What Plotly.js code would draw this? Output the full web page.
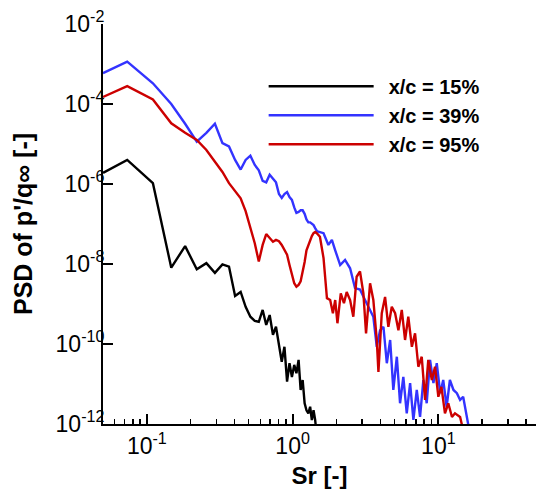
<!DOCTYPE html>
<html>
<head>
<meta charset="utf-8">
<script src="https://cdn.plot.ly/plotly-3.0.1.min.js"></script>
<style>html,body{margin:0;padding:0;background:#fff;}#chart{width:536px;height:490px;}</style>
</head>
<body>
<div id="chart"></div>
<script>
// Series names
const seriesNames = ['x/c = 15%', 'x/c = 39%', 'x/c = 95%'];

// x/c = 15% (black)
const srBlack = [0.05,0.0733,0.110,0.147,0.183,0.220,0.256,0.293,0.330,0.366,0.403,0.440,0.476,0.513,0.550,0.586,0.623,0.659,0.696,0.733,0.769,0.806,0.842,0.879,0.916,0.952,0.989,1.026,1.062,1.099,1.135,1.172,1.209,1.245,1.282,1.319,1.355,1.392,1.428,1.465];
const psdBlack = [1.9e-6,4.0e-6,1.05e-6,8.1e-9,2.8e-8,7.4e-9,1.05e-8,6.0e-9,9.8e-9,8.6e-9,1.58e-9,2.0e-9,8.5e-10,4.8e-10,3.8e-10,3.6e-10,7.1e-10,3.0e-10,5.3e-10,1.7e-10,2.7e-10,8.5e-11,3.6e-11,8.5e-11,1.15e-11,3.3e-11,1.5e-11,3.0e-11,1.85e-11,4.0e-11,7.1e-12,1.26e-11,3.3e-12,2.2e-12,1.85e-12,2.7e-12,1.26e-12,2.2e-12,1.26e-12,5e-13];

// x/c = 39% (blue)
const srBlue = [0.05,0.0733,0.110,0.147,0.183,0.220,0.256,0.293,0.330,0.366,0.403,0.440,0.476,0.513,0.550,0.586,0.623,0.659,0.696,0.733,0.769,0.806,0.842,0.879,0.916,0.952,0.989,1.026,1.062,1.099,1.135,1.172,1.209,1.245,1.282,1.319,1.355,1.392,1.428,1.465,1.50,1.63,1.76,1.86,1.96,2.12,2.29,2.48,2.68,2.90,3.14,3.40,3.58,3.78,3.98,4.20,4.43,4.67,4.91,5.19,5.46,5.75,6.07,6.40,6.74,7.11,7.49,7.89,8.32,8.77,9.25,9.75,10.3,10.8,11.4,12.0,12.7,13.4,14.1,14.8,15.7,16.3];
const psdBlue = [5.9e-4,1.15e-3,3.3e-4,1.0e-4,3.2e-5,1.15e-5,1.9e-5,3.2e-5,1.05e-5,8.7e-6,4.0e-6,2.3e-6,4.0e-6,5.1e-6,3.0e-6,2.2e-6,1.2e-6,1.1e-6,1.7e-6,1.4e-6,1.1e-6,5.6e-7,4.5e-7,5.6e-7,6.3e-7,4.7e-7,4.0e-7,2.6e-7,1.9e-7,2.0e-7,2.2e-7,2.2e-7,1.8e-7,1.3e-7,1.1e-7,1.1e-7,1.0e-7,9.4e-8,7.9e-8,6.7e-8,6.4e-8,5.9e-8,3.0e-8,4.0e-8,2.2e-8,9.4e-9,1.26e-8,7.8e-9,2.5e-9,2.3e-9,1.26e-9,7.1e-10,4.8e-10,8.5e-11,2.2e-10,2.7e-10,3.3e-11,1.26e-10,7.1e-12,4.8e-11,3.3e-12,1.5e-11,1.85e-12,1.05e-11,1.26e-12,7.1e-12,1.5e-12,1.26e-11,3.3e-12,4.0e-11,1.05e-11,3.3e-11,5.9e-12,1.26e-11,2.7e-12,1.26e-11,7.1e-12,5.9e-12,4.0e-12,4.8e-12,1.5e-12,7e-13];

// x/c = 95% (red)
const srRed = [0.05,0.0733,0.110,0.147,0.183,0.220,0.256,0.293,0.330,0.366,0.403,0.440,0.476,0.513,0.550,0.586,0.623,0.659,0.696,0.733,0.769,0.806,0.842,0.879,0.916,0.952,0.989,1.026,1.062,1.099,1.135,1.172,1.209,1.245,1.282,1.319,1.355,1.392,1.428,1.465,1.54,1.63,1.72,1.81,1.89,1.96,2.03,2.14,2.25,2.35,2.48,2.61,2.75,2.90,3.06,3.19,3.40,3.58,3.78,3.88,4.09,4.31,4.54,4.79,5.05,5.32,5.61,5.91,6.22,6.58,6.92,7.29,7.69,8.11,8.53,9.02,9.49,10.0,10.5,11.1,11.7,12.4,13.0,14.1,14.8];
const psdRed = [1.5e-4,2.8e-4,1.3e-4,3.3e-5,1.9e-5,1.26e-5,7.1e-6,3.6e-6,2.0e-6,1.05e-6,6.5e-7,4.4e-7,2.1e-7,8.3e-8,3.3e-8,1.15e-8,3.0e-8,5.6e-8,4.5e-8,3.6e-8,4.0e-8,3.7e-8,3.0e-8,2.2e-8,1.7e-8,9.4e-9,5.0e-9,3.3e-9,2.7e-9,3.0e-9,3.7e-9,6.3e-9,1.12e-8,2.2e-8,3.0e-8,4.0e-8,5.0e-8,5.9e-8,6.3e-8,5.9e-8,4.8e-8,1.4e-8,1.4e-9,1.26e-9,5.9e-10,1.26e-9,3.3e-10,1.85e-9,1.05e-9,2.0e-9,1.26e-9,4.8e-10,4.8e-9,6.5e-9,1.85e-9,1.85e-10,3.3e-9,1.26e-9,1.26e-10,2.0e-11,5.9e-10,1.5e-9,2.7e-10,8.5e-10,5.9e-10,2.2e-10,7.1e-10,1.26e-10,4.8e-10,8.5e-11,1.85e-10,2.7e-11,4.8e-11,4.0e-12,4.0e-11,1.26e-11,2.7e-11,4.8e-12,8.5e-12,1.85e-12,3.3e-12,1.5e-12,1.85e-12,1.5e-12,7e-13];

// Axis ticks
const xTickVals = [0.1, 1, 10];
const xTickText = ['10<sup>-1</sup>', '10<sup>0</sup>', '10<sup>1</sup>'];
const xMinorVals = [0.05,0.06,0.07,0.08,0.09,0.2,0.3,0.4,0.5,0.6,0.7,0.8,0.9,2,3,4,5,6,7,8,9,20,30,40];
const yTickVals = [1e-12, 1e-10, 1e-8, 1e-6, 1e-4, 1e-2];
const yTickText = ['10<sup>-12</sup>', '10<sup>-10</sup>', '10<sup>-8</sup>', '10<sup>-6</sup>', '10<sup>-4</sup>', '10<sup>-2</sup>'];

const FONT = 'Liberation Sans, Arial, Helvetica, sans-serif';
const colors = ['#000000', '#3333ff', '#cc0000'];

const traces = [
  {x: srBlack, y: psdBlack, name: '<b>\u2002' + seriesNames[0] + '</b>'},
  {x: srBlue, y: psdBlue, name: '<b>\u2002' + seriesNames[1] + '</b>'},
  {x: srRed, y: psdRed, name: '<b>\u2002' + seriesNames[2] + '</b>'}
].map((t, i) => Object.assign(t, {type: 'scatter', mode: 'lines', line: {color: colors[i], width: 2.4}}));

const layout = {
  width: 536, height: 490,
  margin: {l: 103, r: 0, t: 24, b: 66},
  paper_bgcolor: '#fff', plot_bgcolor: '#fff',
  font: {family: FONT, color: '#000'},
  showlegend: true,
  legend: {
    x: 0.371, y: 0.893, xanchor: 'left', yanchor: 'top',
    bgcolor: 'rgba(0,0,0,0)', borderwidth: 0,
    font: {family: FONT, size: 20, color: '#000'},
    itemwidth: 105, tracegroupgap: 0
  },
  xaxis: {
    type: 'log', range: [Math.log10(0.05), 1.67],
    showline: true, linecolor: '#000', linewidth: 2,
    ticks: 'inside', ticklen: 10, tickwidth: 2, tickcolor: '#000',
    tickmode: 'array', tickvals: xTickVals, ticktext: xTickText,
    tickfont: {family: FONT, size: 23, color: '#000'},
    minor: {ticks: 'inside', ticklen: 5, tickwidth: 1.5, tickcolor: '#000', tickmode: 'array', tickvals: xMinorVals, showgrid: false},
    showgrid: false, zeroline: false, mirror: false,
    title: {text: '<b>Sr [-]</b>', font: {family: FONT, size: 24, color: '#000'}, standoff: 10}
  },
  yaxis: {
    type: 'log', range: [-12, -2],
    showline: true, linecolor: '#000', linewidth: 2,
    ticks: 'inside', ticklen: 10, tickwidth: 2, tickcolor: '#000',
    tickmode: 'array', tickvals: yTickVals, ticktext: yTickText,
    tickfont: {family: FONT, size: 23, color: '#000'},
    ticklabelstandoff: -8,
    showgrid: false, zeroline: false, mirror: false,
    title: {text: '<b>PSD of p\'/q\u221e [-]</b>', font: {family: FONT, size: 25, color: '#000'}, standoff: 16}
  }
};

Plotly.newPlot('chart', traces, layout, {staticPlot: true, displayModeBar: false});
</script>
</body>
</html>
